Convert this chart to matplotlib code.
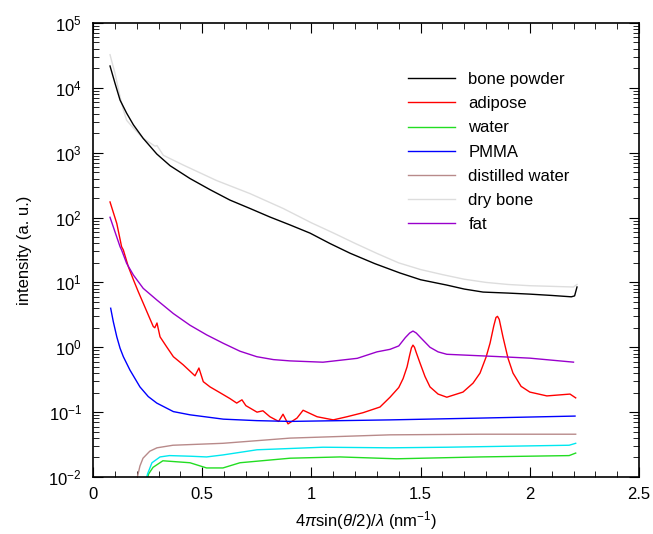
import matplotlib
matplotlib.use("Agg")
import matplotlib.pyplot as plt
from matplotlib.ticker import LogLocator, MultipleLocator, LogFormatterMathtext, FormatStrFormatter, NullFormatter
import numpy as np

plt.rcParams['font.family'] = ['Liberation Sans', 'DejaVu Sans']
plt.rcParams['mathtext.fontset'] = 'custom'
plt.rcParams['mathtext.rm'] = 'Liberation Sans'
plt.rcParams['mathtext.it'] = 'Liberation Sans:italic'

# bone powder
q_bone = [0.078, 0.101, 0.124, 0.154, 0.185, 0.23, 0.261, 0.292, 0.353, 0.444,
          0.536, 0.627, 0.719, 0.81, 0.902, 0.994, 1.085, 1.177, 1.29, 1.405,
          1.5, 1.62, 1.7, 1.786, 1.9, 2.0, 2.1, 2.19, 2.205, 2.216]
i_bone = [21700, 11700, 6460, 4070, 2690, 1660, 1260, 955, 630, 400,
          269, 186, 138, 102, 77, 57.5, 39.8, 28.2, 19.5, 14.0,
          11.0, 9.1, 7.9, 7.1, 6.85, 6.6, 6.3, 6.0, 6.2, 8.5]

# dry bone
q_dry = [0.078, 0.101, 0.124, 0.139, 0.154, 0.185, 0.23, 0.284, 0.293, 0.322,
         0.413, 0.566, 0.719, 0.871, 1.0, 1.1, 1.2, 1.3, 1.4, 1.5,
         1.6, 1.7, 1.8, 1.9, 2.0, 2.1, 2.2, 2.216]
i_dry = [32400, 16600, 7240, 4570, 3160, 2400, 1660, 1260, 1290, 912,
         646, 372, 234, 138, 83, 58, 40, 28, 20, 15.8,
         13.2, 11.2, 10.0, 9.3, 8.9, 8.7, 8.5, 9.3]

# adipose
q_adip = [0.078, 0.109, 0.131, 0.139, 0.162, 0.185, 0.207, 0.23, 0.253, 0.276,
          0.283, 0.293, 0.307, 0.337, 0.368, 0.413, 0.467, 0.485, 0.505, 0.536,
          0.581, 0.627, 0.658, 0.682, 0.70, 0.751, 0.778, 0.81, 0.85, 0.87,
          0.893, 0.934, 0.962, 1.026, 1.10, 1.163, 1.236, 1.314, 1.36, 1.40,
          1.42, 1.438, 1.45, 1.458, 1.465, 1.472, 1.48, 1.497, 1.52, 1.543,
          1.58, 1.62, 1.694, 1.74, 1.772, 1.80, 1.818, 1.835, 1.845, 1.852,
          1.86, 1.877, 1.90, 1.923, 1.96, 2.0, 2.078, 2.184, 2.21]
i_adip = [174, 81, 35.5, 31.6, 17.4, 11.0, 7.24, 4.79, 3.16, 2.09,
          2.0, 2.37, 1.45, 1.02, 0.716, 0.537, 0.363, 0.479, 0.295, 0.245,
          0.20, 0.162, 0.138, 0.155, 0.126, 0.10, 0.105, 0.085, 0.072, 0.093,
          0.066, 0.081, 0.107, 0.085, 0.076, 0.085, 0.098, 0.12, 0.17, 0.24,
          0.33, 0.50, 0.76, 0.98, 1.08, 1.0, 0.83, 0.575, 0.355, 0.245,
          0.19, 0.17, 0.204, 0.28, 0.40, 0.71, 1.16, 2.14, 2.88, 3.0,
          2.69, 1.45, 0.68, 0.40, 0.25, 0.204, 0.178, 0.19, 0.166]

# fat
q_fat = [0.078, 0.124, 0.131, 0.154, 0.185, 0.23, 0.292, 0.368, 0.444, 0.521,
         0.597, 0.673, 0.75, 0.826, 0.902, 1.053, 1.21, 1.30, 1.36, 1.40,
         1.43, 1.45, 1.465, 1.48, 1.50, 1.543, 1.58, 1.62, 1.85, 2.0, 2.2]
i_fat = [101, 35.5, 31.6, 19.7, 13.0, 8.1, 5.37, 3.31, 2.19, 1.55,
         1.15, 0.87, 0.716, 0.646, 0.617, 0.589, 0.676, 0.85, 0.93, 1.05,
         1.41, 1.66, 1.78, 1.66, 1.41, 1.0, 0.85, 0.78, 0.72, 0.68, 0.59]

# PMMA
q_pmma = [0.081, 0.093, 0.109, 0.124, 0.139, 0.169, 0.215, 0.253, 0.292, 0.368,
          0.444, 0.597, 0.75, 0.902, 1.36, 1.772, 2.207]
i_pmma = [4.0, 2.48, 1.45, 0.966, 0.716, 0.447, 0.245, 0.174, 0.138, 0.102,
          0.091, 0.078, 0.074, 0.072, 0.076, 0.081, 0.087]

# distilled water
q_dist = [0.20, 0.215, 0.229, 0.26, 0.293, 0.366, 0.595, 0.902, 1.36, 1.772, 2.21]
i_dist = [0.009, 0.0148, 0.0195, 0.025, 0.0282, 0.0309, 0.0331, 0.0398, 0.0447, 0.0457, 0.0457]

# unlabeled cyan curve
q_cyan = [0.243, 0.25, 0.27, 0.307, 0.35, 0.45, 0.52, 0.595, 0.751, 1.053, 1.36, 1.62, 2.18, 2.21]
i_cyan = [0.009, 0.0112, 0.0166, 0.0204, 0.0214, 0.0209, 0.0204, 0.0219, 0.0263, 0.0288,
          0.0282, 0.0288, 0.0309, 0.0331]

# water
q_water = [0.247, 0.255, 0.275, 0.32, 0.444, 0.52, 0.595, 0.673, 0.902, 1.131, 1.39, 1.772, 2.18, 2.21]
i_water = [0.009, 0.0112, 0.0141, 0.0178, 0.0166, 0.0138, 0.0138, 0.0166, 0.0195, 0.0204,
           0.0191, 0.0204, 0.0214, 0.0234]

fig = plt.figure(figsize=(6.53, 5.34), dpi=100)
ax = fig.add_axes([0.1424, 0.1067, 0.8362, 0.8503])

ax.semilogy(q_dry, i_dry, color='#dddddd', lw=1, label='dry bone')
ax.semilogy(q_bone, i_bone, color='black', lw=1, label='bone powder')
ax.semilogy(q_adip, i_adip, color='#ff0000', lw=1, label='adipose')
ax.semilogy(q_water, i_water, color='#22dd22', lw=1, label='water')
ax.semilogy(q_pmma, i_pmma, color='#0000ff', lw=1, label='PMMA')
ax.semilogy(q_dist, i_dist, color='#b88a8a', lw=1, label='distilled water')
ax.semilogy(q_cyan, i_cyan, color='#00e8f0', lw=1)
ax.semilogy(q_fat, i_fat, color='#9900cc', lw=1, label='fat')

ax.set_xlim(0, 2.5)
ax.set_ylim(1e-2, 1e5)
ax.xaxis.set_major_locator(MultipleLocator(0.5))
ax.xaxis.set_minor_locator(MultipleLocator(0.1))
ax.xaxis.set_major_formatter(FormatStrFormatter('%g'))
ax.yaxis.set_major_locator(LogLocator(base=10, numticks=10))
ax.yaxis.set_minor_locator(LogLocator(base=10, subs=np.arange(2, 10), numticks=10))
ax.yaxis.set_major_formatter(LogFormatterMathtext())
ax.yaxis.set_minor_formatter(NullFormatter())
ax.tick_params(which='both', direction='in', top=True, right=True, labelsize=12)
ax.tick_params(which='major', length=7)
ax.tick_params(which='minor', length=4)
ax.tick_params(axis='x', which='major', pad=7)
ax.tick_params(axis='y', which='major', pad=8)
for s in ax.spines.values():
    s.set_linewidth(1.2)

ax.set_xlabel(r'4$\pi$sin($\theta$/2)/$\lambda$ (nm$^{-1}$)', fontsize=12, labelpad=5)
ax.set_ylabel('intensity (a. u.)', fontsize=12, labelpad=12)

h, l = ax.get_legend_handles_labels()
order = ['bone powder', 'adipose', 'water', 'PMMA', 'distilled water', 'dry bone', 'fat']
hh = [h[l.index(o)] for o in order]
ax.legend(hh, order, loc='upper left', bbox_to_anchor=(0.55, 0.925), frameon=False,
          fontsize=12, handlelength=2.8, labelspacing=0.55, handletextpad=0.8)

fig.savefig('out.png', dpi=100)
